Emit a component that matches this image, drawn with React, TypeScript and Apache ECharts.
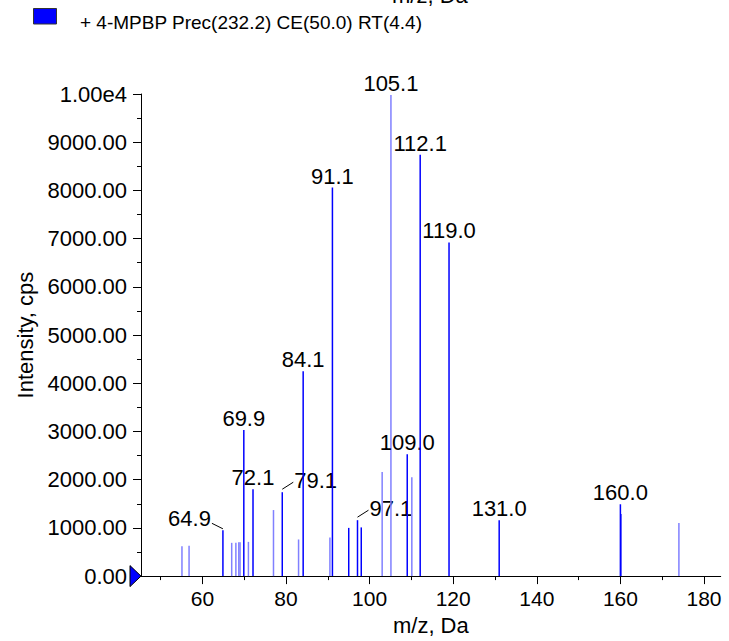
import React, { useEffect, useRef } from "react";
import * as echarts from "echarts";

// ---- data ----
const seriesName = "+ 4-MPBP Prec(232.2) CE(50.0) RT(4.4)";
const peakMz = [55.1, 56.8, 64.9, 67.0, 68.0, 68.7, 69.0, 69.9, 71.0, 72.1, 77.0, 79.1, 83.0, 84.1, 90.5, 91.1, 95.0, 97.1, 98.0, 103.0, 105.1, 109.0, 110.1, 112.1, 119.0, 131.0, 160.0, 160.1, 174.0];
const peakIntensity = [620, 630, 950, 690, 690, 700, 700, 3030, 710, 1800, 1370, 1740, 760, 4250, 800, 8060, 1000, 1160, 1010, 2160, 9980, 2530, 2050, 8740, 6920, 1160, 1490, 1290, 1100];
// d = saturated blue, l = light blue
const peakShade = ["l", "l", "d", "l", "l", "l", "l", "d", "l", "d", "l", "d", "l", "d", "l", "d", "d", "d", "d", "l", "l", "d", "l", "d", "d", "d", "d", "d", "l"];
const labeledPeaks = [64.9, 69.9, 72.1, 79.1, 84.1, 91.1, 97.1, 105.1, 109.0, 112.1, 119.0, 131.0, 160.0];
const xTickValues = [60, 80, 100, 120, 140, 160, 180];
const xMinorTickValues = [50, 70, 90, 110, 130, 150, 170];
const xRange = [45.3, 184];
const yRange = [0, 10000];
const yInterval = 1000;
const xAxisTitle = "m/z, Da";
const yAxisTitle = "Intensity, cps";

// label placement style for labels drawn beside the peak with a leader line
const leaderLabels: Record<string, { side: "left" | "right" }> = {
  "64.9": { side: "left" },
  "79.1": { side: "right" },
  "97.1": { side: "right" },
};

const DARK = "#0000ff";
const LIGHT = "#8080ff";
const FONT = "'Liberation Sans', Arial, Helvetica, sans-serif";

export default function App() {
  const ref = useRef<HTMLDivElement>(null);
  useEffect(() => {
    if (!ref.current) return;
    const chart = echarts.init(ref.current, null, { renderer: "svg" });
    const data = peakMz.map((m, i) => [m, peakIntensity[i]]);
    const option: any = {
      animation: false,
      backgroundColor: "#ffffff",
      textStyle: { fontFamily: FONT },
      grid: { left: 141, top: 94, right: 8.3, bottom: 57, containLabel: false },
      xAxis: [
        {
          type: "value",
          min: xRange[0],
          max: xRange[1],
          name: xAxisTitle,
          nameLocation: "middle",
          nameGap: 21,
          nameTextStyle: { fontSize: 22, color: "#000", fontFamily: FONT },
          axisLine: { show: true, lineStyle: { color: "#000", width: 1 } },
          axisTick: { show: true, length: 8, customValues: xTickValues, lineStyle: { color: "#000" } },
          axisLabel: { show: true, customValues: xTickValues, fontSize: 21, color: "#000", margin: 12, fontFamily: FONT },
          splitLine: { show: false },
        },
        {
          type: "value",
          min: xRange[0],
          max: xRange[1],
          position: "bottom",
          axisLine: { show: false },
          axisTick: { show: true, length: 4, customValues: xMinorTickValues, lineStyle: { color: "#000" } },
          axisLabel: { show: false },
          splitLine: { show: false },
        },
      ],
      yAxis: {
        type: "value",
        min: yRange[0],
        max: yRange[1],
        interval: yInterval,
        name: yAxisTitle,
        nameLocation: "middle",
        nameGap: 105,
        nameTextStyle: { fontSize: 22, color: "#000", fontFamily: FONT },
        axisLine: { show: true, lineStyle: { color: "#000", width: 1 } },
        axisTick: { show: true, length: 8, lineStyle: { color: "#000" } },
        minorTick: { show: true, splitNumber: 2, length: 4, lineStyle: { color: "#000" } },
        axisLabel: {
          fontSize: 22,
          color: "#000",
          margin: 14,
          fontFamily: FONT,
          formatter: (v: number) => (v >= 10000 ? (v / 10000).toFixed(2) + "e4" : v.toFixed(2)),
        },
        splitLine: { show: false },
      },
      series: [
        {
          name: seriesName,
          type: "custom",
          xAxisIndex: 0,
          yAxisIndex: 0,
          data,
          itemStyle: { color: DARK },
          renderItem: (params: any, api: any) => {
            const i = params.dataIndex;
            const mz = api.value(0);
            const inten = api.value(1);
            const top = api.coord([mz, inten]);
            const base = api.coord([mz, 0]);
            const children: any[] = [
              {
                type: "line",
                shape: { x1: top[0], y1: base[1], x2: top[0], y2: top[1] },
                style: { stroke: peakShade[i] === "d" ? DARK : LIGHT, lineWidth: 1.5 },
              },
            ];
            const key = mz.toFixed(1);
            if (labeledPeaks.some((p) => p.toFixed(1) === key)) {
              const lead = leaderLabels[key];
              const px = top[0];
              const py = top[1];
              if (!lead) {
                children.push({
                  type: "text",
                  style: {
                    text: key, x: px, y: py - 0.5, align: "center", verticalAlign: "bottom",
                    fontSize: 22, fontFamily: FONT, fill: "#000",
                  },
                });
              } else if (lead.side === "left") {
                children.push({
                  type: "line",
                  shape: { x1: px - 11, y1: py - 7, x2: px, y2: py - 1.5 },
                  style: { stroke: "#000", lineWidth: 1 },
                });
                children.push({
                  type: "text",
                  style: {
                    text: key, x: px - 12, y: py - 12, align: "right", verticalAlign: "middle",
                    fontSize: 22, fontFamily: FONT, fill: "#000",
                  },
                });
              } else {
                children.push({
                  type: "line",
                  shape: { x1: px, y1: py - 3, x2: px + 11, y2: py - 10 },
                  style: { stroke: "#000", lineWidth: 1 },
                });
                children.push({
                  type: "text",
                  style: {
                    text: key, x: px + 12, y: py - 12, align: "left", verticalAlign: "middle",
                    fontSize: 22, fontFamily: FONT, fill: "#000",
                  },
                });
              }
            }
            return { type: "group", children };
          },
        },
      ],
    };
    chart.setOption(option);
    const origin = chart.convertToPixel({ gridIndex: 0 } as any, [xRange[0], 0]) as number[];
    chart.setOption({
      graphic: [
        {
          type: "text",
          left: 392,
          top: -16,
          style: { text: xAxisTitle, fontSize: 22, fontFamily: FONT, fill: "#000" },
        },
        {
          type: "rect",
          shape: { x: 33.5, y: 8.5, width: 23, height: 15.5 },
          style: { fill: DARK, stroke: "#333", lineWidth: 1 },
        },
        {
          type: "text",
          x: 80,
          y: 22,
          style: { text: seriesName, fontSize: 19, fontFamily: FONT, fill: "#000", verticalAlign: "middle" },
        },
        {
          type: "polygon",
          shape: { points: [[origin[0] - 11, origin[1] - 10.5], [origin[0], origin[1]], [origin[0] - 11, origin[1] + 10.5]] },
          style: { fill: DARK, stroke: "#000", lineWidth: 1 },
          z: 100,
        },
      ],
    });
    return () => chart.dispose();
  }, []);
  return (
    <div
      ref={ref}
      style={{ position: "fixed", left: 0, top: 0, width: 729, height: 641 }}
    />
  );
}
